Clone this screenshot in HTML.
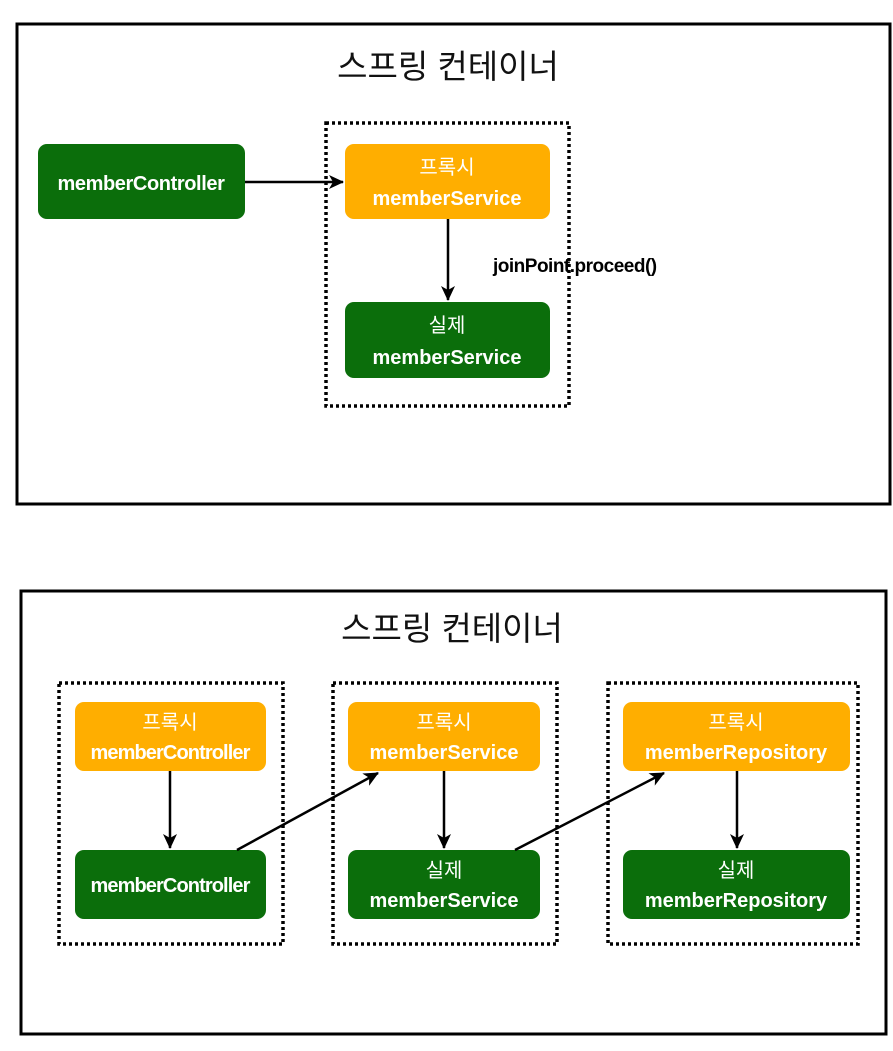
<!DOCTYPE html>
<html><head><meta charset="utf-8"><style>
html,body{margin:0;padding:0;background:#fff;}
svg text{font-family:"Liberation Sans","Noto Sans CJK KR",sans-serif;}
</style></head><body>
<svg width="893" height="1046" viewBox="0 0 893 1046" xmlns="http://www.w3.org/2000/svg">
<defs>
<marker id="a" markerWidth="16" markerHeight="14" refX="14" refY="7" orient="auto" markerUnits="userSpaceOnUse">
<path d="M0,0 L15,7 L0,14 L4,7 Z" fill="#000"/></marker>
</defs>
<rect width="893" height="1046" fill="#fff"/>
<!-- top frame -->
<rect x="17" y="24" width="873" height="480" fill="none" stroke="#000" stroke-width="3"/>
<text x="448" y="78" font-size="33" text-anchor="middle" fill="#111">스프링 컨테이너</text>
<rect x="326" y="123" width="243" height="283" fill="none" stroke="#000" stroke-width="3.5" stroke-dasharray="3,3"/>
<rect x="38" y="144" width="207" height="75" rx="9" fill="#0b6e0b"/>
<text x="141" y="190" font-size="20" font-weight="bold" fill="#fff" text-anchor="middle" letter-spacing="-0.4">memberController</text>
<rect x="345" y="144" width="205" height="75" rx="9" fill="#ffae00"/>
<text x="447" y="174" font-size="20" fill="#fff" text-anchor="middle">프록시</text>
<text x="447" y="205" font-size="20" font-weight="bold" fill="#fff" text-anchor="middle">memberService</text>
<rect x="345" y="302" width="205" height="76" rx="9" fill="#0b6e0b"/>
<text x="447" y="332" font-size="20" fill="#fff" text-anchor="middle">실제</text>
<text x="447" y="364" font-size="20" font-weight="bold" fill="#fff" text-anchor="middle">memberService</text>
<line x1="245" y1="182" x2="343" y2="182" stroke="#000" stroke-width="2.5" marker-end="url(#a)"/>
<line x1="448" y1="219" x2="448" y2="300" stroke="#000" stroke-width="2.5" marker-end="url(#a)"/>
<text x="493" y="272" font-size="19" font-weight="bold" fill="#000" letter-spacing="-0.5">joinPoint.proceed()</text>
<!-- bottom frame -->
<rect x="21" y="591" width="865" height="443" fill="none" stroke="#000" stroke-width="3"/>
<text x="452" y="640" font-size="33" text-anchor="middle" fill="#111">스프링 컨테이너</text>
<g fill="none" stroke="#000" stroke-width="3.5" stroke-dasharray="3,3">
<rect x="59" y="683" width="224" height="261"/>
<rect x="333" y="683" width="224" height="261"/>
<rect x="608" y="683" width="250" height="261"/>
</g>
<g font-size="20" fill="#fff" text-anchor="middle">
<rect x="75" y="702" width="191" height="69" rx="9" fill="#ffae00"/>
<text x="170" y="729">프록시</text>
<text x="170" y="759" font-weight="bold" letter-spacing="-0.9">memberController</text>
<rect x="75" y="850" width="191" height="69" rx="9" fill="#0b6e0b"/>
<text x="170" y="892" font-weight="bold" letter-spacing="-0.9">memberController</text>
<rect x="348" y="702" width="192" height="69" rx="9" fill="#ffae00"/>
<text x="444" y="729">프록시</text>
<text x="444" y="759" font-weight="bold">memberService</text>
<rect x="348" y="850" width="192" height="69" rx="9" fill="#0b6e0b"/>
<text x="444" y="877">실제</text>
<text x="444" y="907" font-weight="bold">memberService</text>
<rect x="623" y="702" width="227" height="69" rx="9" fill="#ffae00"/>
<text x="736" y="729">프록시</text>
<text x="736" y="759" font-weight="bold">memberRepository</text>
<rect x="623" y="850" width="227" height="69" rx="9" fill="#0b6e0b"/>
<text x="736" y="877">실제</text>
<text x="736" y="907" font-weight="bold">memberRepository</text>
</g>
<g stroke="#000" stroke-width="2.5">
<line x1="170" y1="771" x2="170" y2="848" marker-end="url(#a)"/>
<line x1="444" y1="771" x2="444" y2="848" marker-end="url(#a)"/>
<line x1="737" y1="771" x2="737" y2="848" marker-end="url(#a)"/>
<line x1="237" y1="850" x2="378" y2="773" marker-end="url(#a)"/>
<line x1="515" y1="850" x2="664" y2="773" marker-end="url(#a)"/>
</g>
</svg>
</body></html>
